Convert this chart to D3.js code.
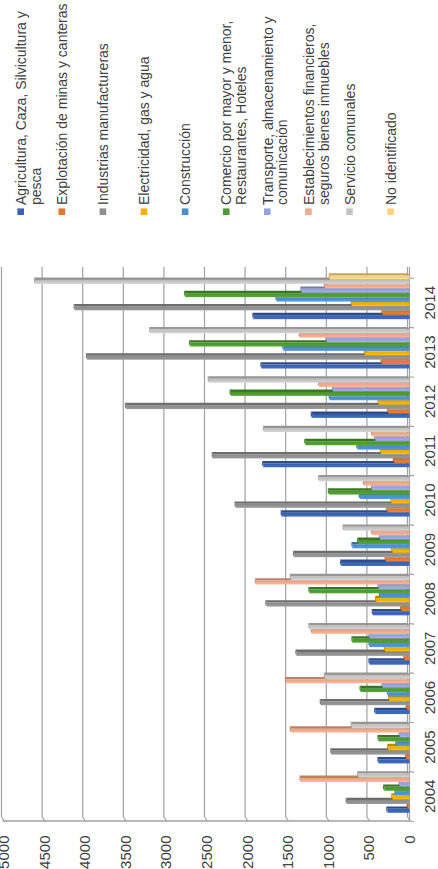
<!DOCTYPE html>
<html lang="es">
<head>
<meta charset="UTF-8">
<title>Ocupados por rama de actividad</title>
<script src="https://d3js.org/d3.v7.min.js"></script>
<style>
  body { margin: 0; background: #fff; }
  text { font-family: "Liberation Sans", Arial, sans-serif; fill: #404040; }
</style>
</head>
<body>
<svg id="chart" width="438" height="869"></svg>
<script>
// data
const years = ['2004', '2005', '2006', '2007', '2008', '2009', '2010', '2011', '2012', '2013', '2014'];
const agricultura      = [270, 380, 420, 490, 450, 840, 1570, 1800, 1200, 1820, 1920];
const explotacion      = [20, 40, 30, 60, 100, 290, 270, 190, 260, 340, 330];
const industrias       = [770, 960, 1090, 1390, 1760, 1420, 2140, 2420, 3490, 3970, 4120];
const electricidad     = [210, 260, 250, 300, 410, 210, 220, 350, 380, 550, 710];
const construccion     = [170, 160, 260, 490, 360, 700, 610, 640, 980, 1550, 1635];
const comercio         = [310, 380, 600, 700, 1230, 630, 990, 1280, 2200, 2700, 2760];
const transporte       = [120, 120, 330, 490, 380, 360, 460, 420, 940, 1020, 1330];
const establecimientos = [1340, 1460, 1520, 1200, 1890, 460, 560, 460, 1110, 1350, 1040];
const servicio         = [630, 710, 1040, 1230, 1460, 810, 1110, 1790, 2470, 3190, 4610];
const noIdentificado   = [0, 0, 0, 0, 0, 0, 0, 0, 0, 0, 980];
const valueTicks = [0, 500, 1000, 1500, 2000, 2500, 3000, 3500, 4000, 4500, 5000];

const legendLabels = [
  ['Agricultura, Caza, Silvicultura y', 'pesca'],
  ['Explotación de minas y canteras'],
  ['Industrias manufactureras'],
  ['Electricidad, gas y agua'],
  ['Construcción'],
  ['Comercio por mayor y menor,', 'Restaurantes, Hoteles'],
  ['Transporte, almacenamiento y', 'comunicación'],
  ['Establecimientos financieros,', 'seguros bienes inmuebles'],
  ['Servicio comunales'],
  ['No identificado']
];
const colors = ['#3a64b4', '#e2762f', '#8f8f8f', '#f0b000', '#4a8fcc',
                '#4c9a30', '#95a3de', '#f2a88a', '#c4c4c4', '#ffd27f'];

const seriesValues = [agricultura, explotacion, industrias, electricidad, construccion,
                      comercio, transporte, establecimientos, servicio, noIdentificado];
const series = seriesValues.map((vals, i) => ({ key: 's' + i, label: legendLabels[i], color: colors[i], values: vals }));

const svg = d3.select('#chart');
// the chart is drawn as a normal column chart (869 wide, 438 tall) and turned a quarter to the left
const g = svg.append('g').attr('transform', 'translate(0,869) rotate(-90)');

const x = d3.scaleBand().domain(years).range([48, 591]);
const inner = d3.scaleBand().domain(series.map(s => s.key)).range([8.2, 51.8]).paddingInner(0.1);
const y = d3.scaleLinear().domain([0, 5000]).range([409.5, 3.5]);

const dx = 2.4, dy = 1.3; // depth of the 3d look
const gridColor = '#a0a0a0';

// gradients for the fronts of the bars
const defs = svg.append('defs');
series.forEach(s => {
  const grad = defs.append('linearGradient').attr('id', 'grad-' + s.key)
    .attr('x1', 0).attr('x2', 1).attr('y1', 0).attr('y2', 0);
  grad.append('stop').attr('offset', '0%').attr('stop-color', d3.color(s.color).brighter(0.25));
  grad.append('stop').attr('offset', '100%').attr('stop-color', d3.color(s.color).darker(0.15));
});

// back wall gridlines with the little floor hooks
const grid = g.append('g');
valueTicks.forEach(t => {
  grid.append('line')
    .attr('x1', 52).attr('x2', 602)
    .attr('y1', y(t) - 2).attr('y2', y(t) - 2)
    .attr('stroke', gridColor).attr('stroke-width', 1.2);
  grid.append('line')
    .attr('x1', 52).attr('x2', 48)
    .attr('y1', y(t) - 2).attr('y2', y(t) + 0.8)
    .attr('stroke', gridColor).attr('stroke-width', 1.2);
});
// side wall front edge
g.append('line').attr('x1', 48).attr('x2', 48).attr('y1', y(5000) - 1).attr('y2', y(0) + 1)
  .attr('stroke', gridColor).attr('stroke-width', 1.3);
// category axis
g.append('line').attr('x1', 48).attr('x2', 602).attr('y1', y(0)).attr('y2', y(0))
  .attr('stroke', gridColor).attr('stroke-width', 1.2);
const bounds = years.map(yr => x(yr)).concat([x.range()[1]]);
g.append('g').selectAll('line').data(bounds).join('line')
  .attr('x1', d => d).attr('x2', d => d - 0.5)
  .attr('y1', y(0)).attr('y2', y(0) + 4.5)
  .attr('stroke', gridColor).attr('stroke-width', 1.2);

// bars
const bars = g.append('g');
years.forEach((yr, yi) => {
  series.forEach(s => {
    const v = s.values[yi];
    if (!v) return;
    const u0 = x(yr) + inner(s.key);
    const w = inner.bandwidth();
    const top = y(v), base = y(0);
    const bar = bars.append('g');
    bar.append('polygon')
      .attr('points', [[u0 + w, base], [u0 + w, top], [u0 + w + dx, top - dy], [u0 + w + dx, base - dy]].join(' '))
      .attr('fill', d3.color(s.color).darker(0.75));
    bar.append('rect')
      .attr('x', u0).attr('y', top).attr('width', w).attr('height', base - top)
      .attr('fill', 'url(#grad-' + s.key + ')');
    bar.append('polygon')
      .attr('points', [[u0, top], [u0 + w, top], [u0 + w + dx, top - dy], [u0 + dx, top - dy]].join(' '))
      .attr('fill', d3.color(s.color).darker(0.4));
  });
});

// value labels
g.append('g').selectAll('text').data(valueTicks).join('text')
  .attr('x', 33.5).attr('y', d => y(d)).attr('dy', '0.36em')
  .attr('text-anchor', 'end').style('font-size', '15px')
  .text(d => d);

// year labels
g.append('g').selectAll('text').data(years).join('text')
  .attr('x', d => x(d) + x.bandwidth() / 2).attr('y', 435)
  .attr('text-anchor', 'middle').style('font-size', '15px')
  .text(d => d);

// legend
const legendPos = d3.scaleBand().domain(series.map(s => s.key)).range([0, 411]);
const legend = g.append('g').selectAll('g').data(series).join('g')
  .attr('transform', s => `translate(0,${legendPos(s.key) + 20.7})`);
legend.append('rect')
  .attr('x', 654).attr('y', -3.3).attr('width', 6.6).attr('height', 6.6)
  .attr('fill', s => s.color);
legend.append('text')
  .attr('x', 664).attr('y', 5.2)
  .style('font-size', '14px')
  .selectAll('tspan').data(s => s.label).join('tspan')
  .attr('x', 664).attr('dy', (d, i) => i ? 15 : 0)
  .text(d => d);
</script>
</body>
</html>
